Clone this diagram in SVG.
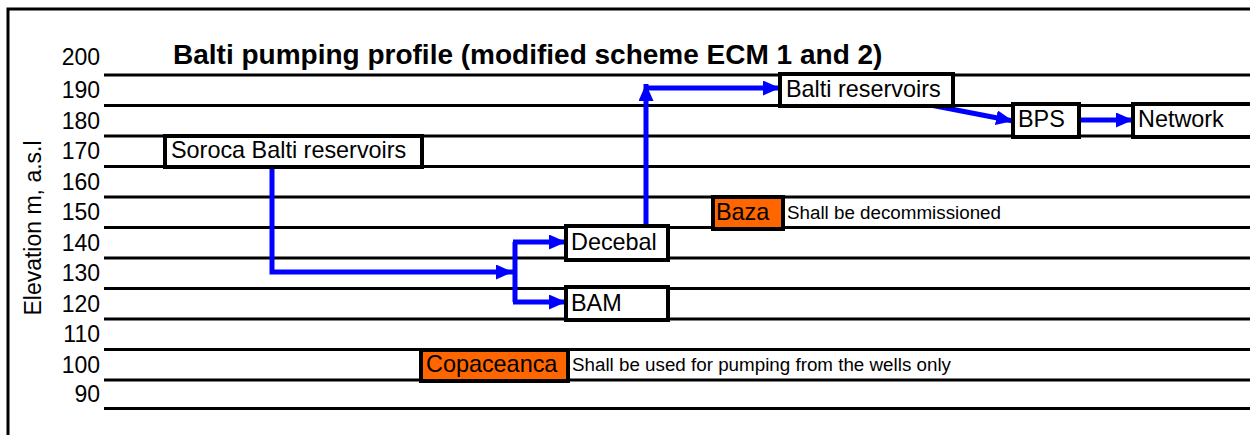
<svg xmlns="http://www.w3.org/2000/svg" width="1250" height="435" viewBox="0 0 1250 435">
<style>
.t{font-family:"Liberation Sans",Arial,sans-serif;fill:#000}
.lbl{font-size:23px;text-anchor:end}
.nt{font-size:23.4px}
.note{font-size:18.8px}
.grid{stroke:#000;stroke-width:3}
.box{fill:#fff;stroke:#000;stroke-width:4}
.obox{fill:#FF6600;stroke:#000;stroke-width:4}
.conn{fill:none;stroke:#0000FF;stroke-width:5}
</style>
<defs>
<marker id="ah" markerUnits="userSpaceOnUse" markerWidth="17" markerHeight="15" refX="17" refY="7.5" orient="auto">
<path d="M0,0 L17,7.5 L0,15 z" fill="#0000FF"/>
</marker>
</defs>
<rect width="1250" height="435" fill="#fff"/>
<rect x="8" y="9" width="1262" height="450" fill="none" stroke="#000" stroke-width="3"/>
<g id="grid">
<line class="grid" x1="104" y1="75" x2="1250" y2="75"/>
<line class="grid" x1="104" y1="105.5" x2="1250" y2="105.5"/>
<line class="grid" x1="104" y1="136" x2="1250" y2="136"/>
<line class="grid" x1="104" y1="166.5" x2="1250" y2="166.5"/>
<line class="grid" x1="104" y1="197" x2="1250" y2="197"/>
<line class="grid" x1="104" y1="227.5" x2="1250" y2="227.5"/>
<line class="grid" x1="104" y1="258" x2="1250" y2="258"/>
<line class="grid" x1="104" y1="288.5" x2="1250" y2="288.5"/>
<line class="grid" x1="104" y1="319" x2="1250" y2="319"/>
<line class="grid" x1="104" y1="349.5" x2="1250" y2="349.5"/>
<line class="grid" x1="104" y1="380" x2="1250" y2="380"/>
<line class="grid" x1="104" y1="408.5" x2="1250" y2="408.5"/>
</g>
<g id="axis-labels">
<text class="t lbl" x="100" y="65">200</text>
<text class="t lbl" x="100" y="98">190</text>
<text class="t lbl" x="100" y="128.5">180</text>
<text class="t lbl" x="100" y="159">170</text>
<text class="t lbl" x="100" y="189.5">160</text>
<text class="t lbl" x="100" y="220">150</text>
<text class="t lbl" x="100" y="250.5">140</text>
<text class="t lbl" x="100" y="281">130</text>
<text class="t lbl" x="100" y="311.5">120</text>
<text class="t lbl" x="100" y="342">110</text>
<text class="t lbl" x="100" y="372.5">100</text>
<text class="t lbl" x="100" y="402">90</text>
<text class="t" font-size="23" text-anchor="middle" transform="translate(41,228) rotate(-90)">Elevation m, a.s.l</text>
</g>
<text id="title" class="t" x="173" y="64" font-size="28" font-weight="bold">Balti pumping profile (modified scheme ECM 1 and 2)</text>
<g id="connectors">
<path class="conn" d="M272,167 V272 H513" marker-end="url(#ah)"/>
<path class="conn" d="M515,242 V302"/>
<path class="conn" d="M513,242 H566" marker-end="url(#ah)"/>
<path class="conn" d="M513,302 H566" marker-end="url(#ah)"/>
<path class="conn" d="M646,226 V84" marker-end="url(#ah)"/>
<path class="conn" d="M644,88 H780" marker-end="url(#ah)"/>
<path class="conn" d="M915,102 L1013,121" marker-end="url(#ah)"/>
<path class="conn" d="M1079,120 H1133" marker-end="url(#ah)"/>
</g>
<g id="soroca"><rect class="box" x="165" y="136" width="257" height="31"/><text class="t nt" x="171" y="158">Soroca Balti reservoirs</text></g>
<g id="balti"><rect class="box" x="780" y="74" width="173" height="32"/><text class="t nt" x="786" y="97">Balti reservoirs</text></g>
<g id="bps"><rect class="box" x="1013" y="104" width="66" height="33"/><text class="t nt" x="1018" y="127">BPS</text></g>
<g id="network"><rect class="box" x="1133" y="104" width="130" height="33"/><text class="t nt" x="1138" y="127">Network</text></g>
<g id="decebal"><rect class="box" x="566" y="226" width="102" height="34"/><text class="t nt" x="571" y="250">Decebal</text></g>
<g id="bam"><rect class="box" x="566" y="287" width="102" height="33"/><text class="t nt" x="571" y="311">BAM</text></g>
<g id="baza"><rect class="obox" x="713" y="197" width="70" height="32"/><text class="t nt" x="716" y="220">Baza</text><text class="t note" x="787" y="219">Shall be decommissioned</text></g>
<g id="copaceanca"><rect class="obox" x="421" y="350" width="147" height="31"/><text class="t nt" x="426" y="372">Copaceanca</text><text class="t note" x="572" y="371">Shall be used for pumping from the wells only</text></g>
</svg>
